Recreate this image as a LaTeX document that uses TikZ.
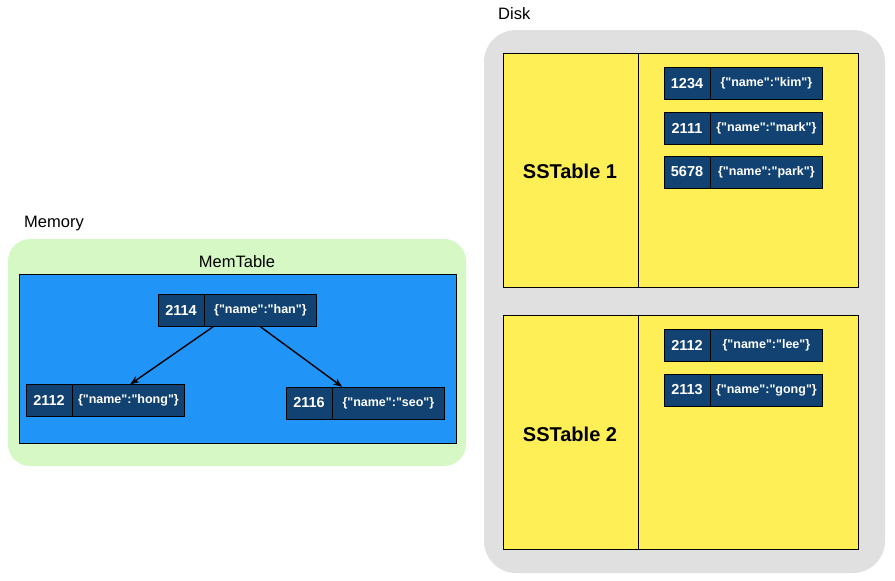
\documentclass[tikz,border=0pt]{standalone}
\usepackage{fontspec}
\setmainfont{Liberation Sans}[Ligatures=TeXOff]
\usetikzlibrary{positioning,arrows.meta}

\definecolor{memgreen}{RGB}{213,248,196}
\definecolor{tableblue}{RGB}{33,148,248}
\definecolor{recblue}{RGB}{17,66,114}
\definecolor{diskgray}{RGB}{224,224,224}
\definecolor{ssyellow}{RGB}{255,239,87}

\newcommand{\kvpair}[4]{%
  \node[key] (k#1) at (#2) {#3};
  \node[val, right=0pt of k#1] (v#1) {#4};}

\begin{document}
\begin{tikzpicture}[x=1pt,y=-1pt,
        key/.style = {draw, fill=recblue, text=white, minimum width=46pt, minimum height=32pt, inner sep=0pt, font=\fontsize{14.5}{16}\selectfont\bfseries},
        val/.style = {draw, fill=recblue, text=white, minimum width=112pt, minimum height=32pt, inner sep=0pt, font=\fontsize{12.5}{15}\selectfont\bfseries},
        title/.style = {font=\fontsize{16.5}{19}\selectfont, inner sep=0pt},
        sstitle/.style = {font=\fontsize{20}{24}\selectfont\bfseries, inner sep=0pt},
        link/.style = {line width=1.4pt, -{Stealth[length=9pt,width=7pt]}}]
        \useasboundingbox (0,0) rectangle (895,581);

        % memory
        \fill[memgreen, rounded corners=22pt] (8,239) rectangle (466,466);
        \draw[fill=tableblue] (19,274) rectangle (456,443);
        \node[title, anchor=west] (memory) at (24,224) {Memory};
        \node[title] (memtable) at (237,262) {MemTable};

        \kvpair{2114}{181,310.5}{2114}{\{"name":"han"\}}
        \kvpair{2112}{49,400.5}{2112}{\{"name":"hong"\}}
        \kvpair{2116}{309,403}{2116}{\{"name":"seo"\}}

        \draw[link] ([xshift=9pt]v2114.south west) -- ([xshift=58pt]v2112.north west);
        \draw[link] (v2114.south) -- ([xshift=10pt]v2116.north west);

        % disk
        \fill[diskgray, rounded corners=32pt] (484,30) rectangle (885,573);
        \node[title, anchor=west] (disk) at (498,14) {Disk};

        \draw[fill=ssyellow] (503,53) rectangle (858,287);
        \draw (638,53) -- (638,287);
        \node[sstitle] (ss1) at (570,171) {SSTable 1};
        \kvpair{1234}{687,83.5}{1234}{\{"name":"kim"\}}
        \kvpair{2111}{687,128}{2111}{\{"name":"mark"\}}
        \kvpair{5678}{687,172}{5678}{\{"name":"park"\}}

        \draw[fill=ssyellow] (503,315) rectangle (858,549);
        \draw (638,315) -- (638,549);
        \node[sstitle] (ss2) at (570,434) {SSTable 2};
        \kvpair{d2112}{687,345}{2112}{\{"name":"lee"\}}
        \kvpair{2113}{687,390}{2113}{\{"name":"gong"\}}
\end{tikzpicture}
\end{document}
